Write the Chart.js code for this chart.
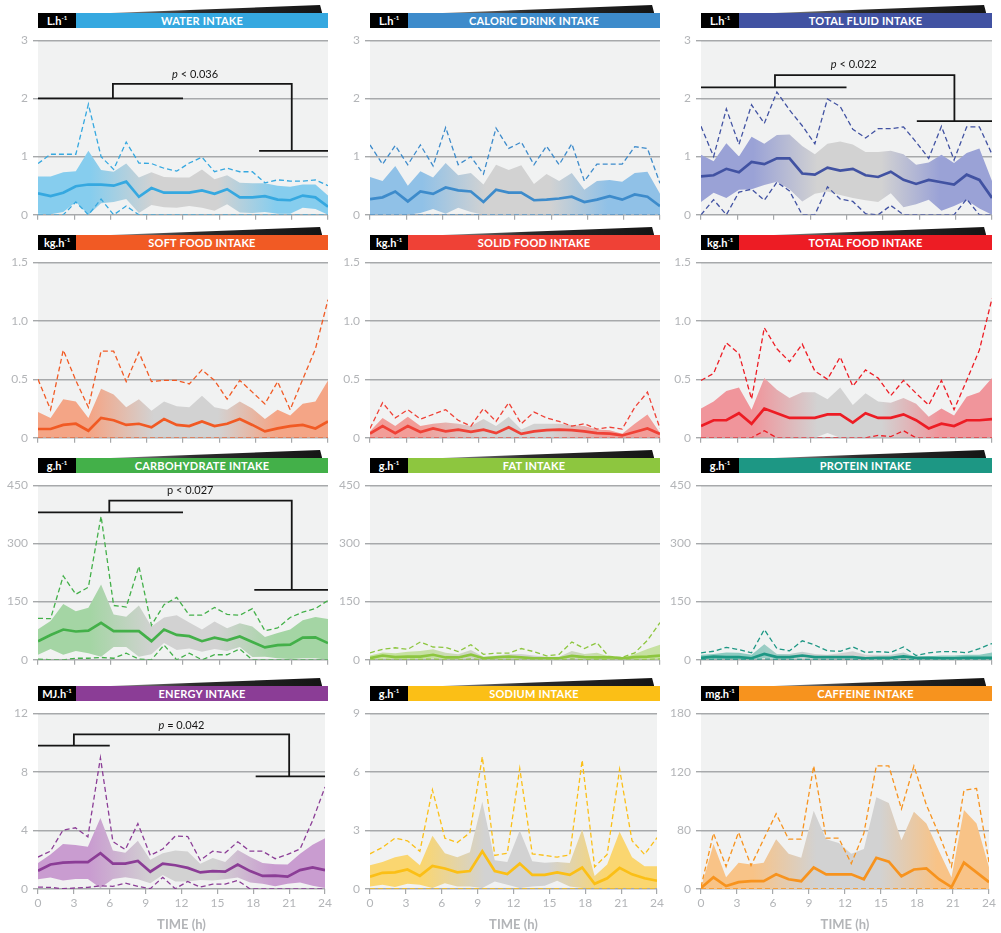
<!DOCTYPE html>
<html>
<head>
<meta charset="utf-8">
<script src="https://cdn.jsdelivr.net/npm/chart.js@4.4.0/dist/chart.umd.min.js"></script>
<style>
body { margin: 0; background: #fff; width: 1001px; height: 933px; position: relative; overflow: hidden; font-family: Lato, 'Open Sans', sans-serif; }
canvas { position: absolute; }
.hdr { position: absolute; height: 15px; display: flex; font-weight: bold; color: #fff; }
.unit { background: #000; width: 38px; font-size: 11px; line-height: 15px; text-align: center; }
.unit sup { font-size: 6px; line-height: 0; }
.ttl { flex: 1; text-align: center; font-size: 11px; line-height: 15px; letter-spacing: 0.2px; }
.wedge { position: absolute; height: 8px; background: linear-gradient(to right, #8a8a8a, #2b2b2b 40%, #151515); clip-path: polygon(0 100%, 99% 0, 100% 100%); }
</style>
</head>
<body>
<script>
// time points (h) - 24 samples across the day
const hours = [0, 1.04, 2.09, 3.13, 4.17, 5.22, 6.26, 7.3, 8.35, 9.39, 10.43, 11.48, 12.52, 13.57, 14.61, 15.65, 16.7, 17.74, 18.78, 19.83, 20.87, 21.91, 22.96, 24];
const xTicks = [0, 3, 6, 9, 12, 15, 18, 21, 24];

// y tick sets
const fluidTicks = [0, 1, 2, 3];
const foodTicks = [0, 0.5, 1.0, 1.5];
const foodLabels = ['0', '0.5', '1.0', '1.5'];
const macroTicks = [0, 150, 300, 450];
const energyTicks = [0, 4, 8, 12];
const sodiumTicks = [0, 3, 6, 9];
const caffeineTicks = [0, 60, 120, 180];
const caffeineLabels = ['0', '80', '120', '180'];

// water
const waterMean = [0.37,0.32,0.38,0.49,0.52,0.52,0.50,0.57,0.31,0.46,0.38,0.38,0.38,0.42,0.36,0.44,0.30,0.30,0.32,0.26,0.25,0.33,0.30,0.14];
const waterMax = [0.88,1.04,1.04,1.04,1.9,1.0,0.78,1.25,0.89,0.88,0.8,0.75,0.89,0.99,0.74,0.8,0.74,0.74,0.55,0.6,0.58,0.58,0.6,0.5];
const waterMin = [0,0,0,0.22,0,0.27,0,0.15,0,0,0,0,0,0,0,0,0,0,0,0,0,0,0,0];
const waterHi = [0.66,0.66,0.73,0.75,1.1,0.77,0.74,0.88,0.64,0.73,0.65,0.64,0.64,0.78,0.61,0.68,0.55,0.54,0.54,0.5,0.48,0.52,0.52,0.33];
const waterLo = [0.02,0.01,0.05,0.22,0,0.2,0.22,0.27,0.03,0.17,0.13,0.12,0.15,0.12,0.07,0.18,0.04,0.03,0.05,0.02,0.02,0.12,0.1,0];

// caloric drink
const drinkMean = [0.27,0.3,0.4,0.23,0.4,0.36,0.47,0.42,0.4,0.22,0.43,0.38,0.38,0.25,0.26,0.28,0.31,0.22,0.26,0.32,0.26,0.35,0.31,0.15];
const drinkMax = [1.2,0.87,1.19,0.86,1.2,0.84,1.5,0.86,1.0,0.7,1.49,1.14,1.25,0.86,1.18,0.86,1.22,0.58,0.87,0.87,0.87,1.17,1.14,0.54];
const drinkMin = [0,0,0,0,0,0,0,0,0,0,0,0,0,0,0,0,0,0,0,0,0,0,0,0];
const drinkHi = [0.65,0.58,0.84,0.5,0.75,0.64,0.89,0.68,0.72,0.52,0.86,0.77,0.85,0.53,0.7,0.58,0.72,0.43,0.58,0.6,0.57,0.72,0.74,0.36];
const drinkLo = [0,0,0,0,0.03,0.1,0.02,0.12,0.05,0,0,0,0,0,0,0,0,0,0,0,0,0,0,0];

// total fluid
const fluidMean = [0.66,0.68,0.79,0.73,0.91,0.87,0.97,0.97,0.71,0.69,0.81,0.76,0.79,0.68,0.65,0.74,0.6,0.53,0.6,0.56,0.52,0.69,0.6,0.29];
const fluidMax = [1.52,1.0,1.82,1.21,1.89,1.57,2.11,1.8,1.53,1.22,1.99,1.86,1.47,1.32,1.48,1.48,1.51,1.25,0.97,1.52,0.94,1.51,1.51,1.04];
const fluidMin = [0,0.26,0,0.39,0.44,0.25,0.56,0.41,0,0,0.48,0.27,0.23,0.02,0,0.16,0,0,0,0,0,0.27,0,0];
const fluidHi = [1.03,0.92,1.23,1.0,1.34,1.22,1.37,1.38,1.18,1.04,1.22,1.26,1.21,1.08,1.08,1.1,1.04,0.86,0.9,1.03,0.89,1.06,1.14,0.58];
const fluidLo = [0.22,0.38,0.29,0.43,0.44,0.51,0.57,0.44,0.23,0.36,0.4,0.34,0.29,0.25,0.22,0.37,0.13,0.18,0.26,0.07,0.15,0.25,0.11,0];

// soft food
const softMean = [0.075,0.075,0.11,0.12,0.06,0.17,0.15,0.11,0.12,0.09,0.16,0.11,0.1,0.14,0.1,0.12,0.16,0.11,0.055,0.08,0.1,0.11,0.08,0.14];
const softMax = [0.5,0.24,0.75,0.49,0.26,0.74,0.74,0.48,0.73,0.48,0.49,0.49,0.46,0.58,0.49,0.33,0.49,0.39,0.29,0.48,0.24,0.5,0.76,1.18];
const softMin = [0,0,0,0,0,0,0,0,0,0,0,0,0,0,0,0,0,0,0,0,0,0,0,0];
const softHi = [0.22,0.17,0.33,0.31,0.17,0.42,0.37,0.26,0.33,0.23,0.31,0.27,0.26,0.36,0.26,0.24,0.31,0.25,0.16,0.24,0.19,0.29,0.31,0.49];
const softLo = [0,0,0,0,0,0,0,0,0,0,0,0,0,0,0,0,0,0,0,0,0,0,0,0];

// solid food
const solidMean = [0.036,0.1,0.04,0.1,0.05,0.08,0.055,0.07,0.05,0.07,0.04,0.09,0.033,0.055,0.065,0.07,0.065,0.055,0.04,0.035,0.02,0.05,0.08,0.033];
const solidMax = [0.08,0.3,0.17,0.24,0.16,0.2,0.24,0.15,0.1,0.25,0.14,0.3,0.12,0.22,0.17,0.14,0.1,0.12,0.075,0.09,0.075,0.26,0.39,0.08];
const solidMin = [0,0,0,0,0,0,0,0,0,0,0,0,0,0,0,0,0,0,0,0,0,0,0,0];
const solidHi = [0.055,0.17,0.1,0.18,0.1,0.12,0.13,0.12,0.1,0.16,0.1,0.18,0.07,0.12,0.12,0.12,0.11,0.1,0.07,0.065,0.035,0.12,0.2,0.04];
const solidLo = [0,0,0,0,0,0,0,0,0,0,0,0,0,0,0,0,0,0,0,0,0,0,0,0];

// total food
const foodMean = [0.1,0.15,0.15,0.21,0.12,0.25,0.21,0.17,0.17,0.17,0.2,0.2,0.13,0.21,0.17,0.17,0.2,0.15,0.08,0.12,0.1,0.15,0.15,0.16];
const foodMax = [0.49,0.55,0.81,0.72,0.33,0.94,0.76,0.65,0.8,0.57,0.5,0.69,0.44,0.58,0.51,0.36,0.49,0.38,0.28,0.49,0.24,0.49,0.75,1.19];
const foodMin = [0,0,0,0,0,0.06,0,0,0,0,0,0,0,0,0.02,0.01,0.06,0,0,0,0,0,0,0];
const foodHi = [0.25,0.31,0.4,0.43,0.24,0.51,0.41,0.34,0.39,0.39,0.33,0.43,0.28,0.38,0.31,0.3,0.34,0.29,0.18,0.25,0.19,0.35,0.39,0.51];
const foodLo = [0,0,0,0,0,0,0,0,0,0,0.04,0,0,0,0,0,0,0,0,0,0,0,0,0];

// carbohydrate
const carbMean = [48,64,78,73,75,95,74,74,74,48,78,64,61,48,57,50,60,46,32,38,39,57,58,43];
const carbMax = [107,106,216,169,187,370,140,136,241,89,142,161,115,115,135,117,115,132,75,82,109,123,132,153];
const carbMin = [2,0,0,4,4,6,4,17,2,0,38,0,17,0,13,13,28,0,0,0,0,0,0,0];
const carbHi = [79,100,144,125,134,194,117,111,140,86,109,115,96,78,99,81,94,86,59,69,78,102,110,105];
const carbLo = [13,28,13,23,17,8,33,33,8,14,43,25,29,21,28,23,33,7,8,4,2,4,4,0];

// fat
const fatMean = [4,11,7,8,8,13,6,6,13,4,6,8,6,4,4,4,10,7,6,7,4,7,8,11];
const fatMax = [18,27,31,27,46,33,32,21,39,14,17,17,29,21,10,14,46,29,44,6,6,18,50,96];
const fatMin = [0,1,0,1,1,2,0,0,2,0,0,1,0,0,0,0,2,0,1,0,0,0,1,2];
const fatHi = [11,19,17,21,23,27,18,14,25,8,11,14,15,11,8,8,23,15,18,8,4,15,28,39];
const fatLo = [1,3,2,2,2,3,1,1,3,1,1,2,1,1,1,1,2,1,1,1,1,1,1,0];

// protein
const protMean = [5,8,7,7,4,15,7,7,11,7,7,7,7,4,5,5,9,5,5,4,4,5,5,5];
const protMax = [18,22,32,26,18,78,29,23,49,38,23,22,33,19,21,19,33,11,18,21,21,18,29,42];
const protMin = [0,1,1,1,0,2,1,1,1,1,1,1,1,0,0,0,1,0,0,0,0,0,0,0];
const protHi = [13,15,19,18,13,40,15,15,21,15,13,17,22,13,13,13,19,7,9,11,11,13,13,19];
const protLo = [1,2,2,2,1,4,2,2,3,2,2,2,2,1,1,1,2,1,1,1,1,1,1,1];

// energy
const energyMean = [1.24,1.67,1.8,1.84,1.84,2.44,1.73,1.73,1.91,1.18,1.73,1.62,1.44,1.13,1.22,1.18,1.67,1.22,0.89,0.91,0.84,1.29,1.47,1.29];
const energyMax = [2.18,2.58,4.02,4.18,3.56,8.96,3.24,2.69,4.47,2.29,2.73,3.62,3.58,1.96,2.58,2.47,3.22,2.58,2.58,2.07,2.36,2.73,4.67,6.96];
const energyMin = [0.13,0.11,0.02,0.07,0.11,0.22,0.18,0.4,0.18,0.02,0.8,0.02,0.51,0.13,0.33,0.33,0.58,0,0,0,0,0,0,0];
const energyHi = [1.78,2.36,3.07,3.0,2.89,4.84,2.62,2.47,3.29,2.0,2.44,2.62,2.56,1.73,2.11,1.84,2.67,2.18,1.78,1.69,1.67,2.4,3.02,3.47];
const energyLo = [0.67,0.78,0.58,0.69,0.69,0.07,0.69,0.8,0.67,0.4,0.96,0.51,0.51,0.62,0.58,0.67,0.78,0.44,0.36,0.18,0.36,0.44,0.22,0.07];

// sodium
const sodiumMean = [0.63,0.83,0.85,1.0,0.67,1.18,1.05,0.85,0.92,1.93,0.92,0.77,1.3,0.72,0.72,0.85,0.72,1.1,0.27,0.55,1.08,0.75,0.55,0.42];
const sodiumMax = [1.8,2.13,2.6,2.47,1.93,5.08,2.6,2.38,2.88,6.77,1.72,1.83,6.17,1.8,1.72,1.63,1.75,6.6,1.13,1.77,6.13,2.47,1.77,2.63];
const sodiumMin = [0,0,0,0,0,0,0,0,0,0,0,0,0,0,0,0,0,0,0,0,0,0,0,0];
const sodiumHi = [1.22,1.38,1.63,1.75,1.22,2.72,1.83,1.63,1.88,4.47,1.47,1.38,3.0,1.42,1.35,1.38,1.33,3.05,0.67,1.25,2.93,1.63,1.17,1.17];
const sodiumLo = [0.13,0.22,0.1,0.27,0.22,0.05,0.3,0.13,0.13,0.05,0.38,0.22,0.05,0.13,0.17,0.42,0.13,0.05,0.05,0.05,0.05,0.05,0.05,0.05];

// caffeine
const caffMean = [1,12,3,7,8,8,15,10,8,22,15,15,15,10,32,28,13,20,21,10,2,27,17,7];
const caffMax = [2,57,23,58,24,51,77,51,51,126,52,52,26,57,126,126,82,126,86,56,23,101,103,27];
const caffMin = [0,0,0,0,0,0,0,0,0,0,0,0,0,0,0,0,0,0,0,0,0,0,0,0];
const caffHi = [1,46,12,27,25,27,51,36,32,80,51,47,36,41,94,88,50,79,67,39,12,81,67,22];
const caffLo = [0,0,0,0,0,0,0,0,0,0,0,0,0,0,0,0,0,0,0,0,0,0,0,0];

// significance brackets (data units): left bar [x0,x1,y], right bar [x0,x1,y], join [xL,xR,yTop], label position
const waterSig = { left: [0, 12, 2.0], right: [18.3, 24, 1.1], join: [6.2, 21, 2.25], at: [13, 2.42], op: '< 0.036', italic: true };
const fluidSig = { left: [0, 12, 2.19], right: [17.8, 24, 1.61], join: [6.1, 20.9, 2.4], at: [12.6, 2.58], op: '< 0.022', italic: true };
const carbSig = { left: [0, 12, 380], right: [17.9, 24, 180], join: [5.9, 21, 410], at: [12.6, 436], op: '< 0.027', italic: false };
const energySig = { left: [0, 6, 9.78], right: [18.2, 24, 7.69], join: [3, 21, 10.56], at: [12, 11.15], op: '= 0.042', italic: true };

const panels = [
  { title: 'WATER INTAKE', unit: 'L.h', color: '#35a8e0', band: '#86cdee', mean: waterMean, max: waterMax, min: waterMin, hi: waterHi, lo: waterLo, ticks: fluidTicks, sig: waterSig },
  { title: 'CALORIC DRINK INTAKE', unit: 'L.h', color: '#3d8bcb', band: '#90c1e7', mean: drinkMean, max: drinkMax, min: drinkMin, hi: drinkHi, lo: drinkLo, ticks: fluidTicks },
  { title: 'TOTAL FLUID INTAKE', unit: 'L.h', color: '#4152a2', band: '#9aa2d6', mean: fluidMean, max: fluidMax, min: fluidMin, hi: fluidHi, lo: fluidLo, ticks: fluidTicks, sig: fluidSig },
  { title: 'SOFT FOOD INTAKE', unit: 'kg.h', color: '#f15a24', band: '#f4a586', mean: softMean, max: softMax, min: softMin, hi: softHi, lo: softLo, ticks: foodTicks, labels: foodLabels },
  { title: 'SOLID FOOD INTAKE', unit: 'kg.h', color: '#ef4136', band: '#f29d98', mean: solidMean, max: solidMax, min: solidMin, hi: solidHi, lo: solidLo, ticks: foodTicks, labels: foodLabels },
  { title: 'TOTAL FOOD INTAKE', unit: 'kg.h', color: '#ed1c24', band: '#f0959b', mean: foodMean, max: foodMax, min: foodMin, hi: foodHi, lo: foodLo, ticks: foodTicks, labels: foodLabels },
  { title: 'CARBOHYDRATE INTAKE', unit: 'g.h', color: '#43b049', band: '#a4d5a4', mean: carbMean, max: carbMax, min: carbMin, hi: carbHi, lo: carbLo, ticks: macroTicks, sig: carbSig },
  { title: 'FAT INTAKE', unit: 'g.h', color: '#8dc63f', band: '#c6e1a1', mean: fatMean, max: fatMax, min: fatMin, hi: fatHi, lo: fatLo, ticks: macroTicks },
  { title: 'PROTEIN INTAKE', unit: 'g.h', color: '#1d9784', band: '#8ecbc1', mean: protMean, max: protMax, min: protMin, hi: protHi, lo: protLo, ticks: macroTicks },
  { title: 'ENERGY INTAKE', unit: 'MJ.h', color: '#8b3d96', band: '#c99cd0', mean: energyMean, max: energyMax, min: energyMin, hi: energyHi, lo: energyLo, ticks: energyTicks, sig: energySig },
  { title: 'SODIUM INTAKE', unit: 'g.h', color: '#fbbf16', band: '#fad670', mean: sodiumMean, max: sodiumMax, min: sodiumMin, hi: sodiumHi, lo: sodiumLo, ticks: sodiumTicks },
  { title: 'CAFFEINE INTAKE', unit: 'mg.h', color: '#f7931e', band: '#f8c387', mean: caffMean, max: caffMax, min: caffMin, hi: caffHi, lo: caffLo, ticks: caffeineTicks, labels: caffeineLabels }
];

// layout
const colLeft = [0, 332, 663];
const rowTop = [36, 258, 481, 709];
const rowH = [179, 180, 179, 180];
const axisW = 38, plotW = 290, padTop = 8;
const gridCol = '#a7a9ab', tickCol = '#b3b5b8';

const pts = arr => arr.map((v, i) => ({ x: hours[i], y: v }));

function bandFill(context, c) {
  const area = context.chart.chartArea;
  if (!area) return c;
  const g = context.chart.ctx.createLinearGradient(area.left, 0, area.right, 0);
  g.addColorStop(0, c);
  g.addColorStop(0.18, c);
  g.addColorStop(0.4, '#d2d2d2');
  g.addColorStop(0.62, '#d2d2d2');
  g.addColorStop(0.82, c);
  g.addColorStop(1, c);
  return g;
}

const plotBg = {
  id: 'plotBg',
  beforeDraw(chart) {
    const { ctx, chartArea: a } = chart;
    ctx.save();
    ctx.fillStyle = '#f1f2f2';
    ctx.fillRect(a.left, a.top, a.right - a.left, a.bottom - a.top);
    ctx.restore();
  }
};

function sigPlugin(sig) {
  return {
    id: 'sig',
    afterDatasetsDraw(chart) {
      if (!sig) return;
      const { ctx, scales: { x, y } } = chart;
      const X = v => x.getPixelForValue(v), Y = v => y.getPixelForValue(v);
      ctx.save();
      ctx.strokeStyle = '#151515';
      ctx.lineWidth = 1.8;
      ctx.beginPath();
      ctx.moveTo(X(sig.left[0]), Y(sig.left[2])); ctx.lineTo(X(sig.left[1]), Y(sig.left[2]));
      ctx.moveTo(X(sig.right[0]), Y(sig.right[2])); ctx.lineTo(X(sig.right[1]), Y(sig.right[2]));
      ctx.moveTo(X(sig.join[0]), Y(sig.left[2]));
      ctx.lineTo(X(sig.join[0]), Y(sig.join[2]));
      ctx.lineTo(X(sig.join[1]), Y(sig.join[2]));
      ctx.lineTo(X(sig.join[1]), Y(sig.right[2]));
      ctx.stroke();
      const pFont = (sig.italic ? 'italic ' : '') + '11px Lato, sans-serif';
      const rest = ' ' + sig.op;
      ctx.font = pFont;
      const wp = ctx.measureText('p').width;
      ctx.font = '11px Lato, sans-serif';
      const wr = ctx.measureText(rest).width;
      const cx = X(sig.at[0]) - (wp + wr) / 2, cy = Y(sig.at[1]);
      ctx.fillStyle = '#151515';
      ctx.textBaseline = 'middle';
      ctx.font = pFont;
      ctx.fillText('p', cx, cy);
      ctx.font = '11px Lato, sans-serif';
      ctx.fillText(rest, cx + wp, cy);
      ctx.restore();
    }
  };
}

panels.forEach((p, i) => {
  const col = i % 3, row = Math.floor(i / 3);
  const bottomRow = row === 3;
  const left = colLeft[col] + axisW;
  const w = col === 2 ? plotW + 1 : plotW;

  // header
  const hdr = document.createElement('div');
  hdr.className = 'hdr';
  hdr.style.left = left + 'px';
  hdr.style.top = (rowTop[row] - 23) + 'px';
  hdr.style.width = w + 'px';
  hdr.innerHTML = '<div class="unit">' + p.unit + '<sup>-1</sup></div><div class="ttl" style="background:' + p.color + '">' + p.title + '</div>';
  document.body.appendChild(hdr);

  const wedge = document.createElement('div');
  wedge.className = 'wedge';
  wedge.style.left = (left + w * 0.25) + 'px';
  wedge.style.width = (w * 0.73) + 'px';
  wedge.style.top = (rowTop[row] - 31) + 'px';
  document.body.appendChild(wedge);

  // chart canvas
  const xH = bottomRow ? 44 : 12;
  const cv = document.createElement('canvas');
  const cw = axisW + w + 6;
  const ch = padTop + rowH[row] + xH;
  cv.width = cw; cv.height = ch;
  cv.style.left = colLeft[col] + 'px';
  cv.style.top = (rowTop[row] - padTop) + 'px';
  document.body.appendChild(cv);

  const line = { pointRadius: 0, tension: 0, fill: false };
  new Chart(cv.getContext('2d'), {
    type: 'line',
    data: {
      datasets: [
        { ...line, data: pts(p.mean), borderColor: p.color, borderWidth: 2.7 },
        { ...line, data: pts(p.max), borderColor: p.color, borderWidth: 1.3, borderDash: [5, 3] },
        { ...line, data: pts(p.min), borderColor: p.color, borderWidth: 1.3, borderDash: [5, 3] },
        { ...line, data: pts(p.hi), borderWidth: 0, fill: '+1', backgroundColor: ctx => bandFill(ctx, p.band) },
        { ...line, data: pts(p.lo), borderWidth: 0 }
      ]
    },
    options: {
      responsive: false,
      animation: false,
      layout: { padding: { top: padTop, right: 6, left: 0, bottom: 0 } },
      plugins: { legend: { display: false }, tooltip: { enabled: false } },
      scales: {
        x: {
          type: 'linear', min: 0, max: 24,
          afterBuildTicks: s => { s.ticks = xTicks.map(v => ({ value: v })); },
          afterFit: s => { s.height = xH; },
          ticks: { display: bottomRow, color: tickCol, font: { family: 'Lato', size: 12 }, padding: 2, maxRotation: 0 },
          grid: { drawOnChartArea: false, drawTicks: true, tickLength: 5, color: gridCol, lineWidth: 1.2 },
          border: { display: false },
          title: { display: bottomRow, text: 'TIME (h)', color: tickCol, font: { family: 'Lato', size: 13, weight: 'bold' }, padding: { top: 0, bottom: 0 } }
        },
        y: {
          min: 0, max: p.ticks[p.ticks.length - 1],
          z: 1,
          afterBuildTicks: s => { s.ticks = p.ticks.map(v => ({ value: v })); },
          afterFit: s => { s.width = axisW; },
          ticks: {
            color: tickCol, font: { family: 'Lato', size: 12 }, padding: 5,
            callback: v => p.labels ? p.labels[p.ticks.indexOf(v)] : String(v)
          },
          grid: { color: gridCol, lineWidth: 1.4, tickLength: 5 },
          border: { display: false }
        }
      }
    },
    plugins: [plotBg, sigPlugin(p.sig)]
  });
});
</script>
</body>
</html>
